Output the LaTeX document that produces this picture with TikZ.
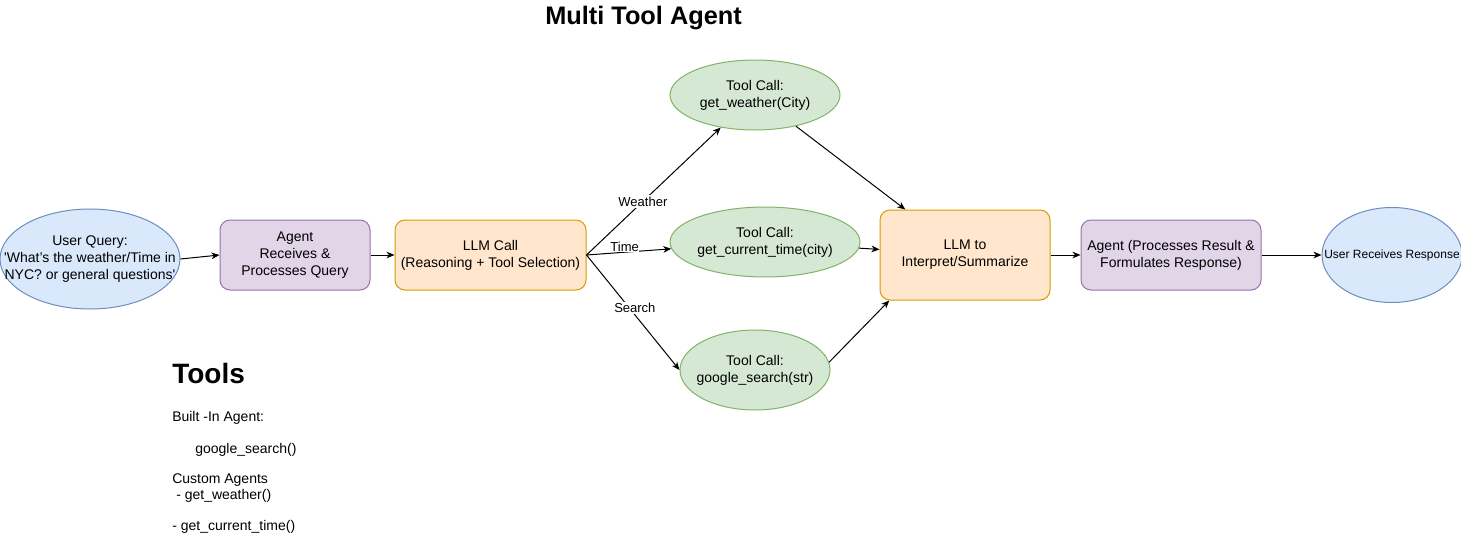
\documentclass[tikz,border=0pt]{standalone}
\usepackage{fontspec}
\setmainfont{Liberation Sans}
\usetikzlibrary{positioning,shapes.geometric,arrows.meta}
\definecolor{QueryFill}{HTML}{DAE8FC}
\definecolor{QueryLine}{HTML}{6C8EBF}
\definecolor{AgentFill}{HTML}{E1D5E7}
\definecolor{AgentLine}{HTML}{9673A6}
\definecolor{ModelFill}{HTML}{FFE6CC}
\definecolor{ModelLine}{HTML}{D79B00}
\definecolor{ToolFill}{HTML}{D5E8D4}
\definecolor{ToolLine}{HTML}{82B366}
\tikzset{
  box text/.style={
    font=\fontsize{10.5}{12.6}\selectfont,
    align=center
  },
  flow box/.style={
    draw=#1Line, fill=#1Fill,
    line width=.75pt, rounded corners=7.5pt,
    inner sep=0pt, box text
  },
  flow oval/.style={
    ellipse, draw=#1Line, fill=#1Fill,
    line width=.75pt, inner sep=0pt
  },
  agent box/.style={
    flow box=Agent,
  },
  model box/.style={
    flow box=Model,
  },
  tool oval/.style={
    flow oval=Tool,
  },
  query oval/.style={
    flow oval=Query,
  },
}
\tikzset{
  flow/.style={
    draw, line width=.75pt,
    -{Stealth[length=6pt,width=5pt,inset=1.8pt]}
  },
  edge text/.style={
    font=\fontsize{9.75}{11.7}\selectfont,
    fill=white, inner sep=1pt
  },
  notes/.style={
    anchor=base west, inner sep=0pt,
    font=\fontsize{10.5}{12.6}\selectfont
  },
  notes head/.style={
    notes, font=\bfseries\fontsize{21}{25}\selectfont
  },
}

\begin{document}
\begin{tikzpicture}[x=.75pt, y=-.75pt]
    \useasboundingbox (0,0) rectangle (1461,554);
    \node[notes, font=\bfseries\fontsize{19}{23}\selectfont] (title) at (545,24) {Multi Tool Agent};
    % main row
    \node[query oval, minimum width=135pt, minimum height=75pt,
      label={[box text]center:{User Query:\\\textquotesingle What’s the weather/Time in\\NYC? or general questions\textquotesingle}}] (query) at (90,259) {};
    \node[agent box, minimum width=112.5pt, minimum height=52.5pt] (receive) at (295,255)
      {Agent\\Receives \&\\Processes Query};
    \node[model box, minimum width=143.25pt, minimum height=52.5pt] (llm) [right=18pt of receive]
      {LLM Call\\(Reasoning + Tool Selection)};
    % tool calls
    \node[tool oval, minimum width=127.5pt, minimum height=52.5pt,
      label={[box text]center:{Tool Call:\\get\_weather(City)}}] (weather) at (755,95) {};
    \node[tool oval, minimum width=142.5pt, minimum height=52.5pt,
      label={[box text]center:{Tool Call:\\get\_current\_time(city)}}] (time) at (765,242) {};
    \node[tool oval, minimum width=112.5pt, minimum height=60pt,
      label={[box text]center:{Tool Call:\\google\_search(str)}}] (search) at (755,370) {};
    \node[model box, minimum width=127.5pt, minimum height=67.5pt] (interpret) at (965,255)
      {LLM to\\Interpret/Summarize};
    \node[agent box, minimum width=135pt, minimum height=52.5pt] (respond) [right=22.5pt of interpret]
      {Agent (Processes Result \&\\Formulates Response)};
    \node[query oval, minimum width=105pt, minimum height=71.25pt,
      label={[font=\fontsize{9}{10.8}\selectfont]center:{User Receives Response}}] (reply) [right=45pt of respond] {};
    % connectors
    \draw[flow] (query.east) -- (receive.west);
    \draw[flow] (receive) -- (llm);
    \draw[flow] (llm.east) -- node[edge text, pos=.42] {Weather} (weather);
    \draw[flow] (llm.east) -- node[edge text, pos=.45, above=0pt, inner sep=0pt] {Time} (time);
    \draw[flow] (llm.east) -- node[edge text, pos=.52, yshift=5pt] {Search} (search.west);
    \draw[flow] (weather) -- (interpret);
    \draw[flow] (time) -- (interpret);
    \draw[flow] (search.6) -- (interpret.211);
    \draw[flow] (interpret) -- (respond);
    \draw[flow] (respond) -- (reply);
    % tools list
    \node[notes head] (tools) at (172,383) {Tools};
    \node[notes] (builtin) at (172,421.5) {Built -In Agent:};
    \node[notes] (search tool) at (195,453) {google\_search()};
    \node[notes] (custom) at (172,483) {Custom Agents};
    \node[notes] (weather tool) at (176,499.5) {- get\_weather()};
    \node[notes] (time tool) at (172,530.5) {- get\_current\_time()};
\end{tikzpicture}
\end{document}
